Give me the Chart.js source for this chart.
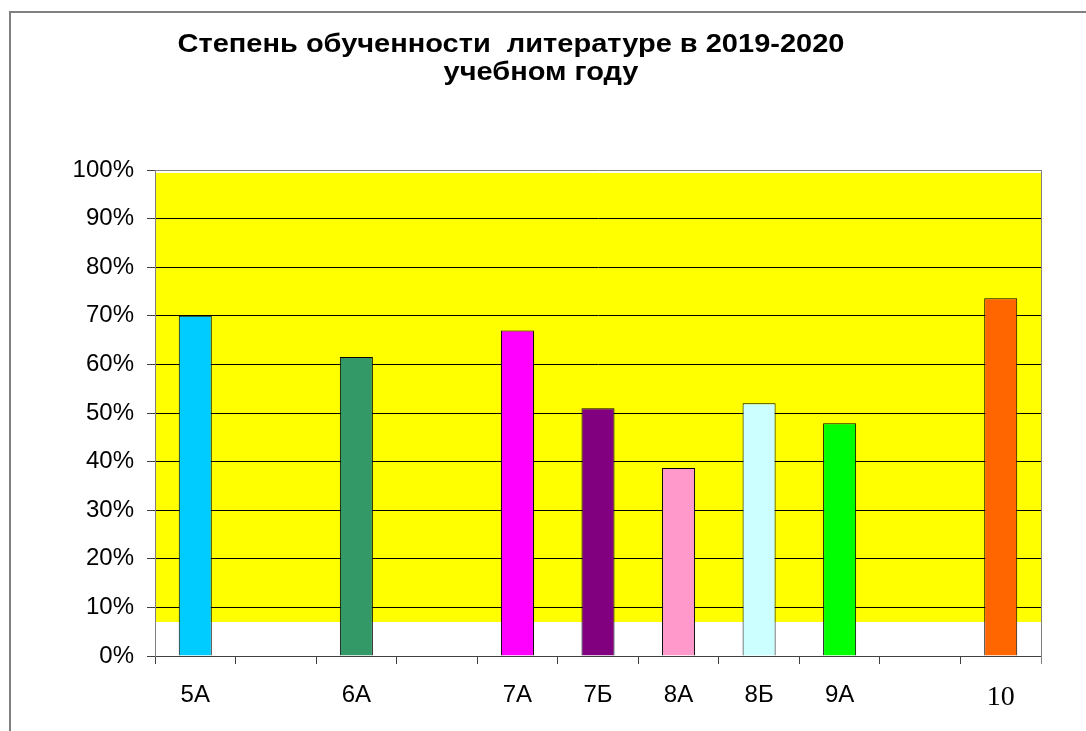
<!DOCTYPE html>
<html>
<head>
<meta charset="utf-8">
<script src="https://cdn.jsdelivr.net/npm/chart.js@4"></script>
<style>
  body { margin: 0; background: #fff; }
  .frame {
    position: absolute; left: 9px; top: 11px; right: -5px; bottom: -5px;
    border-left: 2px solid #808080; border-top: 2px solid #808080;
  }
  #chart { position: absolute; left: 0; top: 0; }
</style>
</head>
<body>
<div class="frame"></div>
<canvas id="chart" width="1086" height="731"></canvas>
<script>
"use strict";

// empty slots are kept, the original axis has 11 category positions
const classes = ["5А", "", "6А", "", "7А", "7Б", "8А", "8Б", "9А", "", "10"];
const learning = [70, null, 61.5, null, 67, 51, 38.7, 52, 47.9, null, 73.6];
const barColors = ["#00CCFF", null, "#339966", null, "#FF00FF", "#800080",
  "#FF99CC", "#CCFFFF", "#00FF00", null, "#FF6600"];
const yTicks = [0, 10, 20, 30, 40, 50, 60, 70, 80, 90, 100];
const titleLines = ["Степень обученности  литературе в 2019-2020", "учебном году"];

const backdrop = {
  id: "backdrop",
  beforeDraw(chart) {
    const { ctx, chartArea } = chart;
    const y = chart.scales.y;
    const top = y.getPixelForValue(99.4);
    const bottom = y.getPixelForValue(7);
    ctx.save();
    ctx.fillStyle = "#FFFF00";
    ctx.fillRect(chartArea.left, top, chartArea.right - chartArea.left, bottom - top);
    ctx.restore();
  },
  afterDraw(chart) {
    const { ctx, chartArea } = chart;
    ctx.save();
    ctx.strokeStyle = "#808080";
    ctx.lineWidth = 1;
    ctx.beginPath();
    ctx.moveTo(chartArea.right + 0.5, chartArea.top);
    ctx.lineTo(chartArea.right + 0.5, chartArea.bottom + 8);
    ctx.stroke();
    ctx.restore();

    // the title of the original is a bit wider than its height suggests
    ctx.save();
    ctx.fillStyle = "#000";
    ctx.font = "bold 25px 'Liberation Sans', Arial, sans-serif";
    ctx.textAlign = "center";
    ctx.textBaseline = "alphabetic";
    ctx.translate(511, 52);
    ctx.scale(1.16, 1);
    ctx.fillText(titleLines[0], 0, 0);
    ctx.restore();

    ctx.save();
    ctx.fillStyle = "#000";
    ctx.font = "bold 25px 'Liberation Sans', Arial, sans-serif";
    ctx.textAlign = "center";
    ctx.translate(541, 80);
    ctx.scale(1.16, 1);
    ctx.fillText(titleLines[1], 0, 0);
    ctx.restore();
  }
};

new Chart(document.getElementById("chart"), {
  type: "bar",
  data: {
    labels: classes,
    datasets: [{
      data: learning,
      backgroundColor: barColors,
      borderColor: "#000",
      borderWidth: 1,
      categoryPercentage: 1,
      barPercentage: 0.41
    }]
  },
  options: {
    responsive: false,
    animation: false,
    devicePixelRatio: 1,
    layout: { padding: { top: 170, right: 45, left: 0, bottom: 0 } },
    plugins: { legend: { display: false }, title: { display: false }, tooltip: { enabled: false } },
    scales: {
      x: {
        offset: true,
        grid: {
          offset: true,
          drawOnChartArea: false,
          drawTicks: true,
          tickLength: 8,
          tickColor: "#404040"
        },
        border: { color: "#404040", width: 1 },
        ticks: {
          color: "#000",
          padding: 17,
          autoSkip: false,
          maxRotation: 0,
          font: (c) => c.tick && c.tick.label === "10"
            ? { family: "'Liberation Serif', 'Times New Roman', serif", size: 28 }
            : { family: "'Liberation Sans', Arial, sans-serif", size: 24 }
        },
        afterFit(scale) { scale.height = 75; }
      },
      y: {
        min: 0,
        max: 100,
        afterBuildTicks(scale) { scale.ticks = yTicks.map(v => ({ value: v })); },
        grid: {
          color: (c) => c.tick && c.tick.value === 100 ? "#808080" : "#000",
          tickColor: "#404040",
          tickLength: 8,
          lineWidth: 1
        },
        border: { color: "#808080", width: 1 },
        ticks: {
          color: "#000",
          padding: 13,
          font: { family: "'Liberation Sans', Arial, sans-serif", size: 24 },
          callback: (v) => v + "%"
        },
        afterFit(scale) { scale.width = 155; }
      }
    }
  },
  plugins: [backdrop]
});
</script>
</body>
</html>
